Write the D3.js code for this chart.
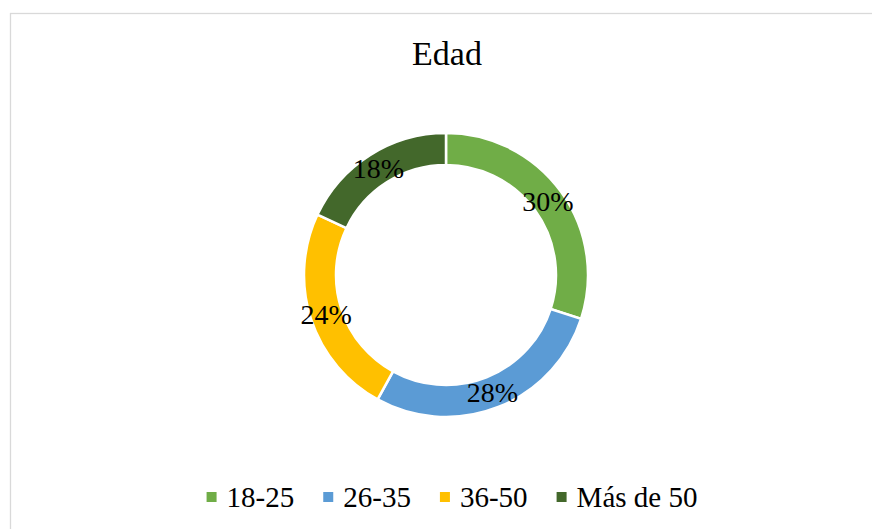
<!DOCTYPE html>
<html>
<head>
<meta charset="utf-8">
<script src="https://cdn.jsdelivr.net/npm/d3@7"></script>
<style>
  html, body { margin: 0; padding: 0; background: #fff; }
  svg { display: block; }
  text { font-family: "Liberation Serif", "Times New Roman", serif; fill: #000; }
</style>
</head>
<body>
<svg id="chart" width="872" height="529"></svg>
<script>
const title = "Edad";
const categories = ["18-25", "26-35", "36-50", "Más de 50"];
const values = [30, 28, 24, 18];
const colors = ["#70AD47", "#5B9BD5", "#FFC000", "#43682B"];

const W = 872, H = 529;
const svg = d3.select("#chart");

// chart area border
svg.append("rect")
  .attr("x", 10.5).attr("y", 13.5)
  .attr("width", 880).attr("height", 540)
  .attr("fill", "#fff")
  .attr("stroke", "#d9d9d9").attr("stroke-width", 1.3);

// title
svg.append("text")
  .attr("x", 447).attr("y", 65)
  .attr("text-anchor", "middle")
  .style("font-size", "34px")
  .text(title);

const cx = 446, cy = 275, rOuter = 142, rInner = 110;
const data = categories.map((c, i) => ({ cat: c, value: values[i], color: colors[i] }));

const pie = d3.pie().value(d => d.value).sort(null);
const arc = d3.arc().innerRadius(rInner).outerRadius(rOuter);
const labelArc = d3.arc().innerRadius((rInner + rOuter) / 2).outerRadius((rInner + rOuter) / 2);
const total = d3.sum(values);

const g = svg.append("g").attr("transform", `translate(${cx},${cy})`);
const arcs = pie(data);

g.selectAll("path.slice")
  .data(arcs)
  .join("path")
  .attr("class", "slice")
  .attr("d", arc)
  .attr("fill", d => d.data.color)
  .attr("stroke", "#fff")
  .attr("stroke-width", 2.5);

g.selectAll("text.lbl")
  .data(arcs)
  .join("text")
  .attr("class", "lbl")
  .attr("transform", d => `translate(${labelArc.centroid(d)})`)
  .attr("text-anchor", "middle")
  .attr("dy", "0.35em")
  .style("font-size", "28px")
  .text(d => Math.round(d.data.value / total * 100) + "%");

// legend
const legend = svg.append("g");
const sq = 10, gapText = 10, gapItem = 29, fontLeg = 29;
let x = 0;
data.forEach(d => {
  const it = legend.append("g");
  it.append("rect").attr("x", 0).attr("y", -5).attr("width", sq).attr("height", sq).attr("fill", d.color);
  const t = it.append("text").attr("x", sq + gapText).attr("y", 0).attr("dy", "0.33em")
    .style("font-size", fontLeg + "px").text(d.cat);
  const w = sq + gapText + t.node().getComputedTextLength();
  it.attr("transform", `translate(${x},0)`);
  x += w + gapItem;
});
const totalW = x - gapItem;
legend.attr("transform", `translate(${452 - totalW / 2},497)`);
</script>
</body>
</html>
